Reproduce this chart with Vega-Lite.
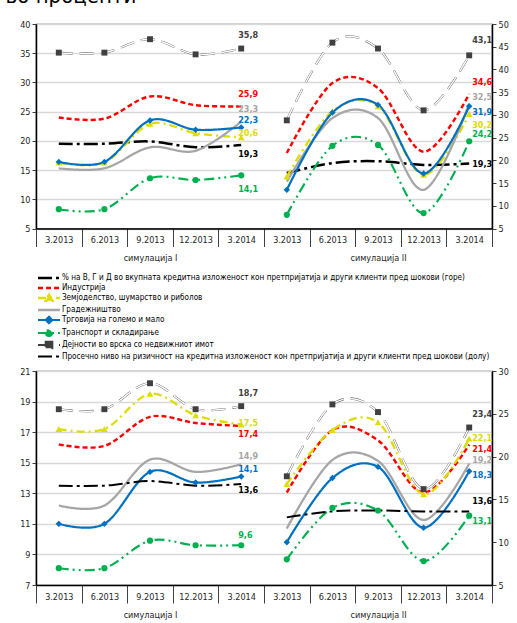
{
  "$schema": "https://vega.github.io/schema/vega-lite/v6.json",
  "padding": {"left": 5, "top": -15, "right": 0, "bottom": 0},
  "title": {"text": "во проценти", "anchor": "start", "frame": "bounds", "fontSize": 22, "fontWeight": "normal", "color": "#000000", "offset": 11, "dx": -13.5},
  "config": {
    "font": "'DejaVu Sans Condensed', 'DejaVu Sans', sans-serif",
    "locale": {"number": {"decimal": ",", "thousands": ".", "grouping": [3], "currency": ["", ""]}},
    "view": {"stroke": "#404040", "strokeWidth": 1.2},
    "axis": {"labelFontSize": 9, "labelColor": "#262626", "domainColor": "#000000", "domainWidth": 1.5, "tickColor": "#404040"}
  },
  "spacing": -10,
  "resolve": {"scale": {"color": "independent", "strokeDash": "independent", "strokeWidth": "independent", "shape": "independent", "size": "independent"}, "legend": {"color": "independent"}},
  "datasets": {
    "d": [
      {"panel": "top", "sim": "I", "x": "3.2013 I", "s": "BCD", "v": 19.5},
      {"panel": "top", "sim": "I", "x": "6.2013 I", "s": "BCD", "v": 19.5},
      {"panel": "top", "sim": "I", "x": "9.2013 I", "s": "BCD", "v": 19.9},
      {"panel": "top", "sim": "I", "x": "12.2013 I", "s": "BCD", "v": 18.9},
      {"panel": "top", "sim": "I", "x": "3.2014 I", "s": "BCD", "v": 19.3},
      {"panel": "top", "sim": "I", "x": "3.2013 I", "s": "IND", "v": 24.0},
      {"panel": "top", "sim": "I", "x": "6.2013 I", "s": "IND", "v": 23.8},
      {"panel": "top", "sim": "I", "x": "9.2013 I", "s": "IND", "v": 27.6},
      {"panel": "top", "sim": "I", "x": "12.2013 I", "s": "IND", "v": 26.1},
      {"panel": "top", "sim": "I", "x": "3.2014 I", "s": "IND", "v": 25.9},
      {"panel": "top", "sim": "I", "x": "3.2013 I", "s": "AGR", "v": 16.3},
      {"panel": "top", "sim": "I", "x": "6.2013 I", "s": "AGR", "v": 16.3},
      {"panel": "top", "sim": "I", "x": "9.2013 I", "s": "AGR", "v": 22.9},
      {"panel": "top", "sim": "I", "x": "12.2013 I", "s": "AGR", "v": 21.3},
      {"panel": "top", "sim": "I", "x": "3.2014 I", "s": "AGR", "v": 20.6},
      {"panel": "top", "sim": "I", "x": "3.2013 I", "s": "CON", "v": 15.3},
      {"panel": "top", "sim": "I", "x": "6.2013 I", "s": "CON", "v": 15.3},
      {"panel": "top", "sim": "I", "x": "9.2013 I", "s": "CON", "v": 18.9},
      {"panel": "top", "sim": "I", "x": "12.2013 I", "s": "CON", "v": 18.3},
      {"panel": "top", "sim": "I", "x": "3.2014 I", "s": "CON", "v": 23.3},
      {"panel": "top", "sim": "I", "x": "3.2013 I", "s": "TRD", "v": 16.4},
      {"panel": "top", "sim": "I", "x": "6.2013 I", "s": "TRD", "v": 16.4},
      {"panel": "top", "sim": "I", "x": "9.2013 I", "s": "TRD", "v": 23.5},
      {"panel": "top", "sim": "I", "x": "12.2013 I", "s": "TRD", "v": 21.9},
      {"panel": "top", "sim": "I", "x": "3.2014 I", "s": "TRD", "v": 22.3},
      {"panel": "top", "sim": "I", "x": "3.2013 I", "s": "TRN", "v": 8.3},
      {"panel": "top", "sim": "I", "x": "6.2013 I", "s": "TRN", "v": 8.3},
      {"panel": "top", "sim": "I", "x": "9.2013 I", "s": "TRN", "v": 13.6},
      {"panel": "top", "sim": "I", "x": "12.2013 I", "s": "TRN", "v": 13.3},
      {"panel": "top", "sim": "I", "x": "3.2014 I", "s": "TRN", "v": 14.1},
      {"panel": "top", "sim": "I", "x": "3.2013 I", "s": "RE", "v": 35.1},
      {"panel": "top", "sim": "I", "x": "6.2013 I", "s": "RE", "v": 35.1},
      {"panel": "top", "sim": "I", "x": "9.2013 I", "s": "RE", "v": 37.4},
      {"panel": "top", "sim": "I", "x": "12.2013 I", "s": "RE", "v": 34.8},
      {"panel": "top", "sim": "I", "x": "3.2014 I", "s": "RE", "v": 35.8},
      {"panel": "top", "sim": "II", "x": "3.2013 II", "s": "BCD", "v": 17.2},
      {"panel": "top", "sim": "II", "x": "6.2013 II", "s": "BCD", "v": 19.4},
      {"panel": "top", "sim": "II", "x": "9.2013 II", "s": "BCD", "v": 19.8},
      {"panel": "top", "sim": "II", "x": "12.2013 II", "s": "BCD", "v": 19.0},
      {"panel": "top", "sim": "II", "x": "3.2014 II", "s": "BCD", "v": 19.3},
      {"panel": "top", "sim": "II", "x": "3.2013 II", "s": "IND", "v": 21.6},
      {"panel": "top", "sim": "II", "x": "6.2013 II", "s": "IND", "v": 37.0},
      {"panel": "top", "sim": "II", "x": "9.2013 II", "s": "IND", "v": 35.9},
      {"panel": "top", "sim": "II", "x": "12.2013 II", "s": "IND", "v": 21.9},
      {"panel": "top", "sim": "II", "x": "3.2014 II", "s": "IND", "v": 34.6},
      {"panel": "top", "sim": "II", "x": "3.2013 II", "s": "AGR", "v": 16.4},
      {"panel": "top", "sim": "II", "x": "6.2013 II", "s": "AGR", "v": 30.8},
      {"panel": "top", "sim": "II", "x": "9.2013 II", "s": "AGR", "v": 31.9},
      {"panel": "top", "sim": "II", "x": "12.2013 II", "s": "AGR", "v": 16.8},
      {"panel": "top", "sim": "II", "x": "3.2014 II", "s": "AGR", "v": 30.2},
      {"panel": "top", "sim": "II", "x": "3.2013 II", "s": "CON", "v": 15.3},
      {"panel": "top", "sim": "II", "x": "6.2013 II", "s": "CON", "v": 29.3},
      {"panel": "top", "sim": "II", "x": "9.2013 II", "s": "CON", "v": 29.3},
      {"panel": "top", "sim": "II", "x": "12.2013 II", "s": "CON", "v": 13.5},
      {"panel": "top", "sim": "II", "x": "3.2014 II", "s": "CON", "v": 32.5},
      {"panel": "top", "sim": "II", "x": "3.2013 II", "s": "TRD", "v": 13.5},
      {"panel": "top", "sim": "II", "x": "6.2013 II", "s": "TRD", "v": 30.5},
      {"panel": "top", "sim": "II", "x": "9.2013 II", "s": "TRD", "v": 32.2},
      {"panel": "top", "sim": "II", "x": "12.2013 II", "s": "TRD", "v": 17.1},
      {"panel": "top", "sim": "II", "x": "3.2014 II", "s": "TRD", "v": 31.9},
      {"panel": "top", "sim": "II", "x": "3.2013 II", "s": "TRN", "v": 8.0},
      {"panel": "top", "sim": "II", "x": "6.2013 II", "s": "TRN", "v": 23.2},
      {"panel": "top", "sim": "II", "x": "9.2013 II", "s": "TRN", "v": 23.4},
      {"panel": "top", "sim": "II", "x": "12.2013 II", "s": "TRN", "v": 8.4},
      {"panel": "top", "sim": "II", "x": "3.2014 II", "s": "TRN", "v": 24.2},
      {"panel": "top", "sim": "II", "x": "3.2013 II", "s": "RE", "v": 28.8},
      {"panel": "top", "sim": "II", "x": "6.2013 II", "s": "RE", "v": 45.9},
      {"panel": "top", "sim": "II", "x": "9.2013 II", "s": "RE", "v": 44.6},
      {"panel": "top", "sim": "II", "x": "12.2013 II", "s": "RE", "v": 31.0},
      {"panel": "top", "sim": "II", "x": "3.2014 II", "s": "RE", "v": 43.1},
      {"panel": "bot", "sim": "I", "x": "3.2013 I", "s": "IND", "v": 16.2},
      {"panel": "bot", "sim": "I", "x": "6.2013 I", "s": "IND", "v": 16.1},
      {"panel": "bot", "sim": "I", "x": "9.2013 I", "s": "IND", "v": 18.0},
      {"panel": "bot", "sim": "I", "x": "12.2013 I", "s": "IND", "v": 17.6},
      {"panel": "bot", "sim": "I", "x": "3.2014 I", "s": "IND", "v": 17.4},
      {"panel": "bot", "sim": "I", "x": "3.2013 I", "s": "AGR", "v": 17.2},
      {"panel": "bot", "sim": "I", "x": "6.2013 I", "s": "AGR", "v": 17.2},
      {"panel": "bot", "sim": "I", "x": "9.2013 I", "s": "AGR", "v": 19.5},
      {"panel": "bot", "sim": "I", "x": "12.2013 I", "s": "AGR", "v": 18.1},
      {"panel": "bot", "sim": "I", "x": "3.2014 I", "s": "AGR", "v": 17.5},
      {"panel": "bot", "sim": "I", "x": "3.2013 I", "s": "CON", "v": 12.2},
      {"panel": "bot", "sim": "I", "x": "6.2013 I", "s": "CON", "v": 12.2},
      {"panel": "bot", "sim": "I", "x": "9.2013 I", "s": "CON", "v": 15.2},
      {"panel": "bot", "sim": "I", "x": "12.2013 I", "s": "CON", "v": 14.4},
      {"panel": "bot", "sim": "I", "x": "3.2014 I", "s": "CON", "v": 14.9},
      {"panel": "bot", "sim": "I", "x": "3.2013 I", "s": "TRD", "v": 11.0},
      {"panel": "bot", "sim": "I", "x": "6.2013 I", "s": "TRD", "v": 11.0},
      {"panel": "bot", "sim": "I", "x": "9.2013 I", "s": "TRD", "v": 14.4},
      {"panel": "bot", "sim": "I", "x": "12.2013 I", "s": "TRD", "v": 13.7},
      {"panel": "bot", "sim": "I", "x": "3.2014 I", "s": "TRD", "v": 14.1},
      {"panel": "bot", "sim": "I", "x": "3.2013 I", "s": "TRN", "v": 8.1},
      {"panel": "bot", "sim": "I", "x": "6.2013 I", "s": "TRN", "v": 8.1},
      {"panel": "bot", "sim": "I", "x": "9.2013 I", "s": "TRN", "v": 9.9},
      {"panel": "bot", "sim": "I", "x": "12.2013 I", "s": "TRN", "v": 9.6},
      {"panel": "bot", "sim": "I", "x": "3.2014 I", "s": "TRN", "v": 9.6},
      {"panel": "bot", "sim": "I", "x": "3.2013 I", "s": "RE", "v": 18.5},
      {"panel": "bot", "sim": "I", "x": "6.2013 I", "s": "RE", "v": 18.5},
      {"panel": "bot", "sim": "I", "x": "9.2013 I", "s": "RE", "v": 20.2},
      {"panel": "bot", "sim": "I", "x": "12.2013 I", "s": "RE", "v": 18.5},
      {"panel": "bot", "sim": "I", "x": "3.2014 I", "s": "RE", "v": 18.7},
      {"panel": "bot", "sim": "I", "x": "3.2013 I", "s": "AVG", "v": 13.5},
      {"panel": "bot", "sim": "I", "x": "6.2013 I", "s": "AVG", "v": 13.5},
      {"panel": "bot", "sim": "I", "x": "9.2013 I", "s": "AVG", "v": 13.8},
      {"panel": "bot", "sim": "I", "x": "12.2013 I", "s": "AVG", "v": 13.5},
      {"panel": "bot", "sim": "I", "x": "3.2014 I", "s": "AVG", "v": 13.6},
      {"panel": "bot", "sim": "II", "x": "3.2013 II", "s": "IND", "v": 15.8},
      {"panel": "bot", "sim": "II", "x": "6.2013 II", "s": "IND", "v": 23.1},
      {"panel": "bot", "sim": "II", "x": "9.2013 II", "s": "IND", "v": 21.9},
      {"panel": "bot", "sim": "II", "x": "12.2013 II", "s": "IND", "v": 15.8},
      {"panel": "bot", "sim": "II", "x": "3.2014 II", "s": "IND", "v": 21.4},
      {"panel": "bot", "sim": "II", "x": "3.2013 II", "s": "AGR", "v": 16.8},
      {"panel": "bot", "sim": "II", "x": "6.2013 II", "s": "AGR", "v": 23.1},
      {"panel": "bot", "sim": "II", "x": "9.2013 II", "s": "AGR", "v": 24.0},
      {"panel": "bot", "sim": "II", "x": "12.2013 II", "s": "AGR", "v": 15.6},
      {"panel": "bot", "sim": "II", "x": "3.2014 II", "s": "AGR", "v": 22.1},
      {"panel": "bot", "sim": "II", "x": "3.2013 II", "s": "CON", "v": 11.6},
      {"panel": "bot", "sim": "II", "x": "6.2013 II", "s": "CON", "v": 19.6},
      {"panel": "bot", "sim": "II", "x": "9.2013 II", "s": "CON", "v": 19.5},
      {"panel": "bot", "sim": "II", "x": "12.2013 II", "s": "CON", "v": 12.6},
      {"panel": "bot", "sim": "II", "x": "3.2014 II", "s": "CON", "v": 19.2},
      {"panel": "bot", "sim": "II", "x": "3.2013 II", "s": "TRD", "v": 10.0},
      {"panel": "bot", "sim": "II", "x": "6.2013 II", "s": "TRD", "v": 17.5},
      {"panel": "bot", "sim": "II", "x": "9.2013 II", "s": "TRD", "v": 18.8},
      {"panel": "bot", "sim": "II", "x": "12.2013 II", "s": "TRD", "v": 11.7},
      {"panel": "bot", "sim": "II", "x": "3.2014 II", "s": "TRD", "v": 18.3},
      {"panel": "bot", "sim": "II", "x": "3.2013 II", "s": "TRN", "v": 8.0},
      {"panel": "bot", "sim": "II", "x": "6.2013 II", "s": "TRN", "v": 14.0},
      {"panel": "bot", "sim": "II", "x": "9.2013 II", "s": "TRN", "v": 13.7},
      {"panel": "bot", "sim": "II", "x": "12.2013 II", "s": "TRN", "v": 7.8},
      {"panel": "bot", "sim": "II", "x": "3.2014 II", "s": "TRN", "v": 13.1},
      {"panel": "bot", "sim": "II", "x": "3.2013 II", "s": "RE", "v": 17.7},
      {"panel": "bot", "sim": "II", "x": "6.2013 II", "s": "RE", "v": 26.1},
      {"panel": "bot", "sim": "II", "x": "9.2013 II", "s": "RE", "v": 25.2},
      {"panel": "bot", "sim": "II", "x": "12.2013 II", "s": "RE", "v": 16.2},
      {"panel": "bot", "sim": "II", "x": "3.2014 II", "s": "RE", "v": 23.4},
      {"panel": "bot", "sim": "II", "x": "3.2013 II", "s": "AVG", "v": 12.9},
      {"panel": "bot", "sim": "II", "x": "6.2013 II", "s": "AVG", "v": 13.6},
      {"panel": "bot", "sim": "II", "x": "9.2013 II", "s": "AVG", "v": 13.7},
      {"panel": "bot", "sim": "II", "x": "12.2013 II", "s": "AVG", "v": 13.6},
      {"panel": "bot", "sim": "II", "x": "3.2014 II", "s": "AVG", "v": 13.6}
    ]
  },
  "vconcat": [
    {
      "width": 456,
      "height": 204.5,
      "data": {"name": "d"},
      "transform": [{"filter": "datum.panel == 'top'"}],
      "resolve": {"scale": {"y": "independent"}},
      "layer": [
        {
          "transform": [{"filter": "datum.sim == 'I'"}],
          "encoding": {
            "x": {"field": "x", "type": "nominal", "sort": null,
              "scale": {"type": "band", "domain": ["3.2013 I", "6.2013 I", "9.2013 I", "12.2013 I", "3.2014 I", "3.2013 II", "6.2013 II", "9.2013 II", "12.2013 II", "3.2014 II"], "paddingInner": 0, "paddingOuter": 0},
              "axis": {"title": null, "orient": "bottom", "labelAngle": 0, "labelOverlap": false, "labelBound": false, "labelLimit": 0, "labelFontSize": 9,
                "labelExpr": "!datum.value ? '' : datum.value == '9.2013 I' ? ['9.2013', 'симулација I'] : datum.value == '9.2013 II' ? ['9.2013', 'симулација II'] : split(datum.value, ' ')[0]",
                "labelLineHeight": 18, "labelPadding": -11, "tickBand": "extent", "tickSize": 18,
                "tickColor": "#404040", "tickWidth": 1, "domainColor": "#000000", "domainWidth": 1.5,
                "encode": {"ticks": {"update": {"y2": {"signal": "datum.value == '3.2014 I' || datum.value == '3.2014 II' || !datum.value ? 36 : 18"}}}}}},
            "y": {"field": "v", "type": "quantitative",
              "scale": {"domain": [5, 40], "nice": false, "zero": false},
              "axis": {"orient": "left", "values": [5, 10, 15, 20, 25, 30, 35, 40], "grid": true, "gridColor": "#D9D9D9", "gridWidth": 1.5, "tickSize": 4, "labelPadding": 2, "title": null}}
          },
          "layer": [
            {"mark": {"type": "line", "interpolate": "cardinal"},
              "encoding": {
                "color": {"field": "s", "type": "nominal",
                  "scale": {"domain": ["BCD", "IND", "AGR", "CON", "TRD", "TRN", "RE", "AVG"], "range": ["#000000", "#FF0000", "#DDDD00", "#A6A6A6", "#0070C0", "#00B050", "#404040", "#000000"]},
                  "legend": {"orient": "bottom", "direction": "vertical", "title": null, "offset": 2.3, "padding": 8.5, "labelFontSize": 8.1, "labelLimit": 0, "labelColor": "#000000", "labelOffset": 8.4, "rowPadding": -5, "symbolSize": 36, "symbolStrokeWidth": 2,
                    "labelExpr": "datum.value == 'BCD' ? '% на В, Г и Д во вкупната кредитна изложеност кон претпријатија и други клиенти пред шокови (горе)' : datum.value == 'IND' ? 'Индустрија' : datum.value == 'AGR' ? 'Земјоделство, шумарство и риболов' : datum.value == 'CON' ? 'Градежништво' : datum.value == 'TRD' ? 'Трговија на големо и мало' : datum.value == 'TRN' ? 'Транспорт и складирање' : datum.value == 'RE' ? 'Дејности во врска со недвижниот имот' : 'Просечно ниво на ризичност на кредитна изложеност кон претпријатија и други клиенти пред шокови (долу)'",
                    "encode": {"symbols": {"update": {
                      "size": {"value": 36},
                      "shape": {"signal": "datum.value == 'AGR' ? 'M-3.67,0H3.67M0,-1.15L1.15,0.9L-1.15,0.9Z' : datum.value == 'TRD' ? 'M-3.67,0H3.67M0,-1.05L1.05,0L0,1.05L-1.05,0Z' : datum.value == 'TRN' ? 'M-3.67,0H3.67M-1,0A1,1,0,1,0,1,0A1,1,0,1,0,-1,0Z' : datum.value == 'RE' ? 'M-3.67,0H3.67M-1.1,-1.1H1.1V1.1H-1.1Z' : 'M-3.67,0H3.67'"},
                      "stroke": {"signal": "datum.value == 'BCD' || datum.value == 'AVG' ? '#000000' : datum.value == 'IND' ? '#FF0000' : datum.value == 'AGR' ? '#DDDD00' : datum.value == 'CON' ? '#A6A6A6' : datum.value == 'TRD' ? '#0070C0' : datum.value == 'TRN' ? '#00B050' : '#404040'"},
                      "fill": {"signal": "datum.value == 'BCD' || datum.value == 'AVG' ? '#000000' : datum.value == 'IND' ? '#FF0000' : datum.value == 'AGR' ? '#DDDD00' : datum.value == 'CON' ? '#A6A6A6' : datum.value == 'TRD' ? '#0070C0' : datum.value == 'TRN' ? '#00B050' : '#404040'"},
                      "strokeDash": {"signal": "datum.value == 'IND' ? [4, 2] : datum.value == 'AGR' ? [8, 3, 2, 3] : datum.value == 'TRN' ? [10, 3, 2, 3] : [1, 0]"},
                      "strokeWidth": {"signal": "datum.value == 'CON' || datum.value == 'RE' ? 3 : 2"},
                      "opacity": {"value": 1}
                    }}}}},
                "strokeDash": {"field": "s", "type": "nominal", "legend": null,
                  "scale": {"domain": ["BCD", "IND", "AGR", "CON", "TRD", "TRN", "RE", "AVG"], "range": [[14, 4, 3, 4], [5, 3], [8, 4, 2, 4], [1, 0], [1, 0], [10, 4, 2, 4, 2, 4], [14, 7], [14, 4, 3, 4]]}},
                "strokeWidth": {"field": "s", "type": "nominal", "legend": null,
                  "scale": {"domain": ["BCD", "IND", "AGR", "CON", "TRD", "TRN", "RE", "AVG"], "range": [2.5, 2, 2.5, 3, 1.75, 1.5, 4.5, 2.5]}}
              }},
            {"transform": [{"filter": "datum.s == 'RE'"}],
              "mark": {"type": "line", "interpolate": "cardinal", "color": "#FFFFFF", "strokeWidth": 1.5, "strokeDash": [14, 7]},
              "encoding": {"detail": {"field": "s", "type": "nominal"}}},
            {"transform": [{"filter": "datum.s == 'AGR' || datum.s == 'TRD' || datum.s == 'TRN' || datum.s == 'RE'"}],
              "mark": {"type": "point", "filled": true, "opacity": 1},
              "encoding": {
                "color": {"field": "s", "type": "nominal",
                  "scale": {"domain": ["BCD", "IND", "AGR", "CON", "TRD", "TRN", "RE", "AVG"], "range": ["#000000", "#FF0000", "#DDDD00", "#A6A6A6", "#0070C0", "#00B050", "#404040", "#000000"]}},
                "shape": {"field": "s", "type": "nominal", "legend": null,
                  "scale": {"domain": ["AGR", "TRD", "TRN", "RE"], "range": ["triangle-up", "diamond", "circle", "square"]}},
                "size": {"field": "s", "type": "nominal", "legend": null,
                  "scale": {"domain": ["AGR", "TRD", "TRN", "RE"], "range": [45, 35, 40, 55]}}
              }},
            {"transform": [{"filter": "datum.x == '3.2014 I'"}],
              "mark": {"type": "text", "align": "left", "baseline": "middle", "dx": -3, "fontSize": 9, "fontWeight": "bold",
                "dy": {"expr": "datum.s == 'RE' ? -14 : datum.s == 'IND' ? -12 : datum.s == 'CON' ? -13 : datum.s == 'TRD' ? -7 : datum.s == 'AGR' ? -4 : datum.s == 'BCD' ? 9 : 14"}},
              "encoding": {
                "text": {"field": "v", "type": "quantitative", "format": ".1f"},
                "color": {"field": "s", "type": "nominal",
                  "scale": {"domain": ["BCD", "IND", "AGR", "CON", "TRD", "TRN", "RE", "AVG"], "range": ["#000000", "#FF0000", "#DDDD00", "#A6A6A6", "#0070C0", "#00B050", "#404040", "#000000"]}}
              }}
          ]
        },
        {
          "transform": [{"filter": "datum.sim == 'II'"}],
          "encoding": {
            "x": {"field": "x", "type": "nominal", "sort": null,
              "scale": {"type": "band", "domain": ["3.2013 I", "6.2013 I", "9.2013 I", "12.2013 I", "3.2014 I", "3.2013 II", "6.2013 II", "9.2013 II", "12.2013 II", "3.2014 II"], "paddingInner": 0, "paddingOuter": 0}},
            "y": {"field": "v", "type": "quantitative",
              "scale": {"domain": [5, 50], "nice": false, "zero": false},
              "axis": {"orient": "right", "values": [5, 10, 15, 20, 25, 30, 35, 40, 45, 50], "grid": false, "tickSize": 4, "labelPadding": 2, "title": null}}
          },
          "layer": [
            {"mark": {"type": "line", "interpolate": "cardinal"},
              "encoding": {
                "color": {"field": "s", "type": "nominal",
                  "scale": {"domain": ["BCD", "IND", "AGR", "CON", "TRD", "TRN", "RE", "AVG"], "range": ["#000000", "#FF0000", "#DDDD00", "#A6A6A6", "#0070C0", "#00B050", "#404040", "#000000"]}},
                "strokeDash": {"field": "s", "type": "nominal", "legend": null,
                  "scale": {"domain": ["BCD", "IND", "AGR", "CON", "TRD", "TRN", "RE", "AVG"], "range": [[14, 4, 3, 4], [5, 3], [8, 4, 2, 4], [1, 0], [1, 0], [10, 4, 2, 4, 2, 4], [14, 7], [14, 4, 3, 4]]}},
                "strokeWidth": {"field": "s", "type": "nominal", "legend": null,
                  "scale": {"domain": ["BCD", "IND", "AGR", "CON", "TRD", "TRN", "RE", "AVG"], "range": [2.5, 2, 2.5, 3, 1.75, 1.5, 4.5, 2.5]}}
              }},
            {"transform": [{"filter": "datum.s == 'RE'"}],
              "mark": {"type": "line", "interpolate": "cardinal", "color": "#FFFFFF", "strokeWidth": 1.5, "strokeDash": [14, 7]},
              "encoding": {"detail": {"field": "s", "type": "nominal"}}},
            {"transform": [{"filter": "datum.s == 'AGR' || datum.s == 'TRD' || datum.s == 'TRN' || datum.s == 'RE'"}],
              "mark": {"type": "point", "filled": true, "opacity": 1},
              "encoding": {
                "color": {"field": "s", "type": "nominal",
                  "scale": {"domain": ["BCD", "IND", "AGR", "CON", "TRD", "TRN", "RE", "AVG"], "range": ["#000000", "#FF0000", "#DDDD00", "#A6A6A6", "#0070C0", "#00B050", "#404040", "#000000"]}},
                "shape": {"field": "s", "type": "nominal", "legend": null,
                  "scale": {"domain": ["AGR", "TRD", "TRN", "RE"], "range": ["triangle-up", "diamond", "circle", "square"]}},
                "size": {"field": "s", "type": "nominal", "legend": null,
                  "scale": {"domain": ["AGR", "TRD", "TRN", "RE"], "range": [45, 35, 40, 55]}}
              }},
            {"transform": [{"filter": "datum.x == '3.2014 II'"}],
              "mark": {"type": "text", "align": "left", "baseline": "middle", "dx": 3, "fontSize": 9, "fontWeight": "bold",
                "dy": {"expr": "datum.s == 'RE' ? -15 : datum.s == 'IND' ? -12 : datum.s == 'CON' ? -7 : datum.s == 'TRD' ? 6 : datum.s == 'AGR' ? 11 : datum.s == 'TRN' ? -7 : 0"}},
              "encoding": {
                "text": {"field": "v", "type": "quantitative", "format": ".1f"},
                "color": {"field": "s", "type": "nominal",
                  "scale": {"domain": ["BCD", "IND", "AGR", "CON", "TRD", "TRN", "RE", "AVG"], "range": ["#000000", "#FF0000", "#DDDD00", "#A6A6A6", "#0070C0", "#00B050", "#404040", "#000000"]}}
              }}
          ]
        }
      ]
    },
    {
      "width": 456,
      "height": 214,
      "data": {"name": "d"},
      "transform": [{"filter": "datum.panel == 'bot'"}],
      "resolve": {"scale": {"y": "independent"}},
      "layer": [
        {
          "transform": [{"filter": "datum.sim == 'I'"}],
          "encoding": {
            "x": {"field": "x", "type": "nominal", "sort": null,
              "scale": {"type": "band", "domain": ["3.2013 I", "6.2013 I", "9.2013 I", "12.2013 I", "3.2014 I", "3.2013 II", "6.2013 II", "9.2013 II", "12.2013 II", "3.2014 II"], "paddingInner": 0, "paddingOuter": 0},
              "axis": {"title": null, "orient": "bottom", "labelAngle": 0, "labelOverlap": false, "labelBound": false, "labelLimit": 0, "labelFontSize": 9,
                "labelExpr": "!datum.value ? '' : datum.value == '9.2013 I' ? ['9.2013', 'симулација I'] : datum.value == '9.2013 II' ? ['9.2013', 'симулација II'] : split(datum.value, ' ')[0]",
                "labelLineHeight": 18, "labelPadding": -11, "tickBand": "extent", "tickSize": 18,
                "tickColor": "#404040", "tickWidth": 1, "domainColor": "#000000", "domainWidth": 1.5,
                "encode": {"ticks": {"update": {"y2": {"signal": "datum.value == '3.2014 I' || datum.value == '3.2014 II' || !datum.value ? 36 : 18"}}}}}},
            "y": {"field": "v", "type": "quantitative",
              "scale": {"domain": [7, 21], "nice": false, "zero": false},
              "axis": {"orient": "left", "values": [7, 9, 11, 13, 15, 17, 19, 21], "grid": true, "gridColor": "#D9D9D9", "gridWidth": 1.5, "tickSize": 4, "labelPadding": 2, "title": null}}
          },
          "layer": [
            {"mark": {"type": "line", "interpolate": "cardinal"},
              "encoding": {
                "color": {"field": "s", "type": "nominal", "legend": null,
                  "scale": {"domain": ["BCD", "IND", "AGR", "CON", "TRD", "TRN", "RE", "AVG"], "range": ["#000000", "#FF0000", "#DDDD00", "#A6A6A6", "#0070C0", "#00B050", "#404040", "#000000"]}},
                "strokeDash": {"field": "s", "type": "nominal", "legend": null,
                  "scale": {"domain": ["BCD", "IND", "AGR", "CON", "TRD", "TRN", "RE", "AVG"], "range": [[14, 4, 3, 4], [5, 3], [8, 4, 2, 4], [1, 0], [1, 0], [10, 4, 2, 4, 2, 4], [14, 7], [14, 4, 3, 4]]}},
                "strokeWidth": {"field": "s", "type": "nominal", "legend": null,
                  "scale": {"domain": ["BCD", "IND", "AGR", "CON", "TRD", "TRN", "RE", "AVG"], "range": [2.5, 2, 2.5, 3, 1.75, 1.5, 4.5, 2.5]}}
              }},
            {"transform": [{"filter": "datum.s == 'RE'"}],
              "mark": {"type": "line", "interpolate": "cardinal", "color": "#FFFFFF", "strokeWidth": 1.5, "strokeDash": [14, 7]},
              "encoding": {"detail": {"field": "s", "type": "nominal"}}},
            {"transform": [{"filter": "datum.s == 'AGR' || datum.s == 'TRD' || datum.s == 'TRN' || datum.s == 'RE'"}],
              "mark": {"type": "point", "filled": true, "opacity": 1},
              "encoding": {
                "color": {"field": "s", "type": "nominal", "legend": null,
                  "scale": {"domain": ["BCD", "IND", "AGR", "CON", "TRD", "TRN", "RE", "AVG"], "range": ["#000000", "#FF0000", "#DDDD00", "#A6A6A6", "#0070C0", "#00B050", "#404040", "#000000"]}},
                "shape": {"field": "s", "type": "nominal", "legend": null,
                  "scale": {"domain": ["AGR", "TRD", "TRN", "RE"], "range": ["triangle-up", "diamond", "circle", "square"]}},
                "size": {"field": "s", "type": "nominal", "legend": null,
                  "scale": {"domain": ["AGR", "TRD", "TRN", "RE"], "range": [45, 35, 40, 55]}}
              }},
            {"transform": [{"filter": "datum.x == '3.2014 I'"}],
              "mark": {"type": "text", "align": "left", "baseline": "middle", "dx": -3, "fontSize": 9, "fontWeight": "bold",
                "dy": {"expr": "datum.s == 'RE' ? -13 : datum.s == 'AGR' ? -2 : datum.s == 'IND' ? 8 : datum.s == 'CON' ? -8 : datum.s == 'TRD' ? -7 : datum.s == 'AVG' ? 6 : -10"}},
              "encoding": {
                "text": {"field": "v", "type": "quantitative", "format": ".1f"},
                "color": {"field": "s", "type": "nominal", "legend": null,
                  "scale": {"domain": ["BCD", "IND", "AGR", "CON", "TRD", "TRN", "RE", "AVG"], "range": ["#000000", "#FF0000", "#DDDD00", "#A6A6A6", "#0070C0", "#00B050", "#404040", "#000000"]}}
              }}
          ]
        },
        {
          "transform": [{"filter": "datum.sim == 'II'"}],
          "encoding": {
            "x": {"field": "x", "type": "nominal", "sort": null,
              "scale": {"type": "band", "domain": ["3.2013 I", "6.2013 I", "9.2013 I", "12.2013 I", "3.2014 I", "3.2013 II", "6.2013 II", "9.2013 II", "12.2013 II", "3.2014 II"], "paddingInner": 0, "paddingOuter": 0}},
            "y": {"field": "v", "type": "quantitative",
              "scale": {"domain": [5, 30], "nice": false, "zero": false},
              "axis": {"orient": "right", "values": [5, 10, 15, 20, 25, 30], "grid": false, "tickSize": 4, "labelPadding": 2, "title": null}}
          },
          "layer": [
            {"mark": {"type": "line", "interpolate": "cardinal"},
              "encoding": {
                "color": {"field": "s", "type": "nominal", "legend": null,
                  "scale": {"domain": ["BCD", "IND", "AGR", "CON", "TRD", "TRN", "RE", "AVG"], "range": ["#000000", "#FF0000", "#DDDD00", "#A6A6A6", "#0070C0", "#00B050", "#404040", "#000000"]}},
                "strokeDash": {"field": "s", "type": "nominal", "legend": null,
                  "scale": {"domain": ["BCD", "IND", "AGR", "CON", "TRD", "TRN", "RE", "AVG"], "range": [[14, 4, 3, 4], [5, 3], [8, 4, 2, 4], [1, 0], [1, 0], [10, 4, 2, 4, 2, 4], [14, 7], [14, 4, 3, 4]]}},
                "strokeWidth": {"field": "s", "type": "nominal", "legend": null,
                  "scale": {"domain": ["BCD", "IND", "AGR", "CON", "TRD", "TRN", "RE", "AVG"], "range": [2.5, 2, 2.5, 3, 1.75, 1.5, 4.5, 2.5]}}
              }},
            {"transform": [{"filter": "datum.s == 'RE'"}],
              "mark": {"type": "line", "interpolate": "cardinal", "color": "#FFFFFF", "strokeWidth": 1.5, "strokeDash": [14, 7]},
              "encoding": {"detail": {"field": "s", "type": "nominal"}}},
            {"transform": [{"filter": "datum.s == 'AGR' || datum.s == 'TRD' || datum.s == 'TRN' || datum.s == 'RE'"}],
              "mark": {"type": "point", "filled": true, "opacity": 1},
              "encoding": {
                "color": {"field": "s", "type": "nominal", "legend": null,
                  "scale": {"domain": ["BCD", "IND", "AGR", "CON", "TRD", "TRN", "RE", "AVG"], "range": ["#000000", "#FF0000", "#DDDD00", "#A6A6A6", "#0070C0", "#00B050", "#404040", "#000000"]}},
                "shape": {"field": "s", "type": "nominal", "legend": null,
                  "scale": {"domain": ["AGR", "TRD", "TRN", "RE"], "range": ["triangle-up", "diamond", "circle", "square"]}},
                "size": {"field": "s", "type": "nominal", "legend": null,
                  "scale": {"domain": ["AGR", "TRD", "TRN", "RE"], "range": [45, 35, 40, 55]}}
              }},
            {"transform": [{"filter": "datum.x == '3.2014 II'"}],
              "mark": {"type": "text", "align": "left", "baseline": "middle", "dx": 3, "fontSize": 9, "fontWeight": "bold",
                "dy": {"expr": "datum.s == 'RE' ? -13 : datum.s == 'AGR' ? -1 : datum.s == 'IND' ? 4 : datum.s == 'CON' ? -3 : datum.s == 'TRD' ? 4 : datum.s == 'AVG' ? -10 : 5"}},
              "encoding": {
                "text": {"field": "v", "type": "quantitative", "format": ".1f"},
                "color": {"field": "s", "type": "nominal", "legend": null,
                  "scale": {"domain": ["BCD", "IND", "AGR", "CON", "TRD", "TRN", "RE", "AVG"], "range": ["#000000", "#FF0000", "#DDDD00", "#A6A6A6", "#0070C0", "#00B050", "#404040", "#000000"]}}
              }}
          ]
        }
      ]
    }
  ]
}
